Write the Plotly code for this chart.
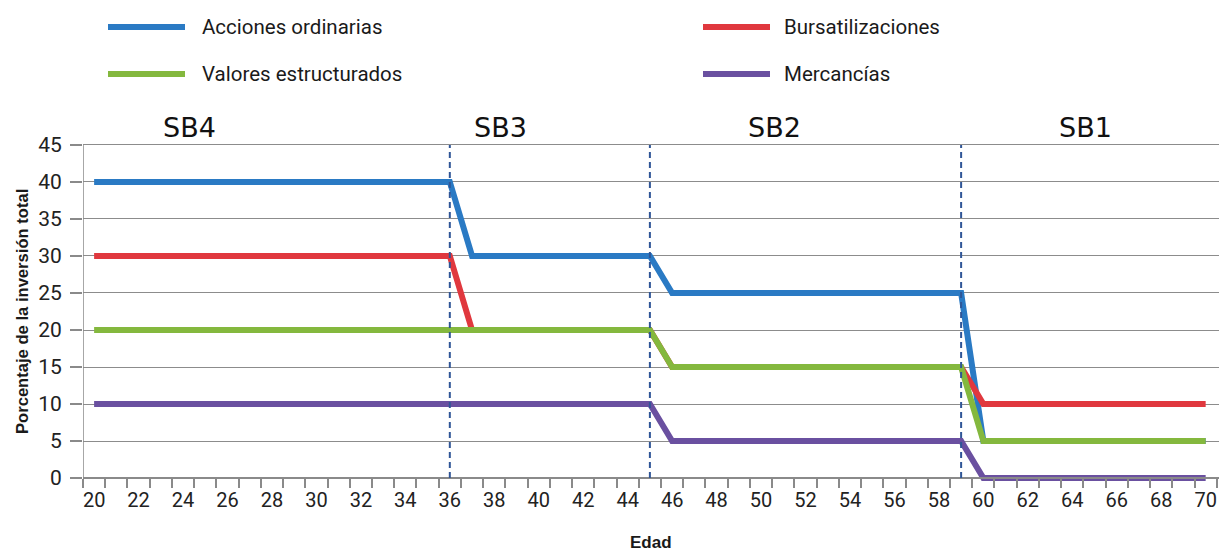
import plotly.graph_objects as go

# ---------------- data ----------------
ages = list(range(20, 71))
acciones = [40] * 17 + [30] * 9 + [25] * 14 + [5] * 11          # 20-36, 37-45, 46-59, 60-70
bursatil = [30] * 17 + [20] * 9 + [15] * 14 + [10] * 11
valores = [20] * 26 + [15] * 14 + [5] * 11
mercancias = [10] * 26 + [5] * 14 + [0] * 11

series_names = ["Acciones ordinarias", "Bursatilizaciones", "Valores estructurados", "Mercancías"]
series_values = [acciones, bursatil, valores, mercancias]
series_colors = ["#2A7AC4", "#E0383E", "#84B83E", "#6A50A0"]

stage_ages = [36, 45, 59]
stage_labels = ["SB4", "SB3", "SB2", "SB1"]
stage_label_x = [24.3, 38.3, 50.6, 64.6]

x_ticks = list(range(20, 71, 2))
y_ticks = list(range(0, 46, 5))

# ---------------- layout constants ----------------
W, H = 1219, 552
ML, MR, MT, MB = 83, 0, 139, 68
Y_RANGE = [-0.8, 45.8]
X_RANGE = [19.5, 70.6]
NARROW = "Liberation Sans Narrow, Arial Narrow, Roboto, sans-serif"
BOLD = "Liberation Sans, Arial, sans-serif"
plot_h = H - MT - MB
plot_w = W - ML - MR


def px_x(px):
    return (px - ML) / plot_w


def px_y(py):
    return (H - MB - py) / plot_h


fig = go.Figure()
for name, vals, col in zip(series_names, series_values, series_colors):
    fig.add_trace(go.Scatter(
        x=ages, y=vals, mode="lines", name=name,
        line=dict(color=col, width=6), showlegend=False,
    ))

shapes = []
# y axis line (0..45)
shapes.append(dict(type="line", xref="x", yref="y", x0=X_RANGE[0], x1=X_RANGE[0], y0=0, y1=45,
                   line=dict(color="#8a8a8a", width=1.5), layer="between"))
# stage separators
for a in stage_ages:
    shapes.append(dict(type="line", xref="x", yref="y", x0=a, x1=a, y0=0, y1=45,
                       line=dict(color="#2F5597", width=2, dash="6px,4px"), layer="above"))

annotations = []
for lab, xv in zip(stage_labels, stage_label_x):
    annotations.append(dict(x=xv, y=px_y(127), xref="x", yref="paper", text=lab, showarrow=False,
                            font=dict(family="DejaVu Sans", size=27, color="#111"),
                            xanchor="center", yanchor="middle"))

# manual legend
legend_pos = [(108, 185, 200, 27), (703, 770, 782, 27), (108, 185, 200, 74), (703, 770, 782, 74)]
for (x0, x1, tx, yy), name, col in zip(legend_pos, series_names, series_colors):
    shapes.append(dict(type="line", xref="paper", yref="paper", x0=px_x(x0), x1=px_x(x1),
                       y0=px_y(yy), y1=px_y(yy), line=dict(color=col, width=6)))
    annotations.append(dict(x=px_x(tx), y=px_y(yy), xref="paper", yref="paper", text=name,
                            showarrow=False, xanchor="left", yanchor="middle",
                            font=dict(family=NARROW, size=20.5, color="#1a1a1a")))

# axis titles
annotations.append(dict(x=px_x(22), y=px_y(312), xref="paper", yref="paper",
                        text="Porcentaje de la inversión total", textangle=-90, showarrow=False,
                        font=dict(family=BOLD, size=16.6, color="#1a1a1a", weight="bold"),
                        xanchor="center", yanchor="middle"))
annotations.append(dict(x=px_x(651), y=px_y(542), xref="paper", yref="paper",
                        text="Edad", showarrow=False,
                        font=dict(family=BOLD, size=17, color="#1a1a1a", weight="bold"),
                        xanchor="center", yanchor="middle"))

fig.update_layout(
    width=W, height=H,
    margin=dict(l=ML, r=MR, t=MT, b=MB, autoexpand=False),
    paper_bgcolor="white", plot_bgcolor="white",
    showlegend=False,
    shapes=shapes, annotations=annotations,
    xaxis=dict(
        range=X_RANGE, tickmode="array", tickvals=x_ticks, ticktext=[str(v) for v in x_ticks],
        ticks="", showgrid=False, zeroline=False,
        anchor="free", position=(0 - Y_RANGE[0]) / (Y_RANGE[1] - Y_RANGE[0]),
        showline=True, linecolor="#8a8a8a", linewidth=1.5,
        tickfont=dict(family=NARROW, size=20, color="#222"),
        ticklabelstandoff=4, ticklabeloverflow="allow",
        minor=dict(tickmode="linear", tick0=19.5, dtick=1, ticks="outside", ticklen=9,
                   tickcolor="#8a8a8a", tickwidth=1.5, showgrid=False),
    ),
    yaxis=dict(
        range=Y_RANGE, domain=[0, 1], tickmode="array", tickvals=y_ticks,
        ticks="outside", ticklen=12, tickcolor="#8a8a8a", tickwidth=1.5,
        showgrid=True, gridcolor="#8c8c8c", gridwidth=1, zeroline=False, showline=False,
        tickfont=dict(family=NARROW, size=21, color="#222"),
        ticklabelstandoff=4,
    ),
)

fig.write_html("out.html", post_script="document.body.style.margin='0';",
               config={"displayModeBar": False})
